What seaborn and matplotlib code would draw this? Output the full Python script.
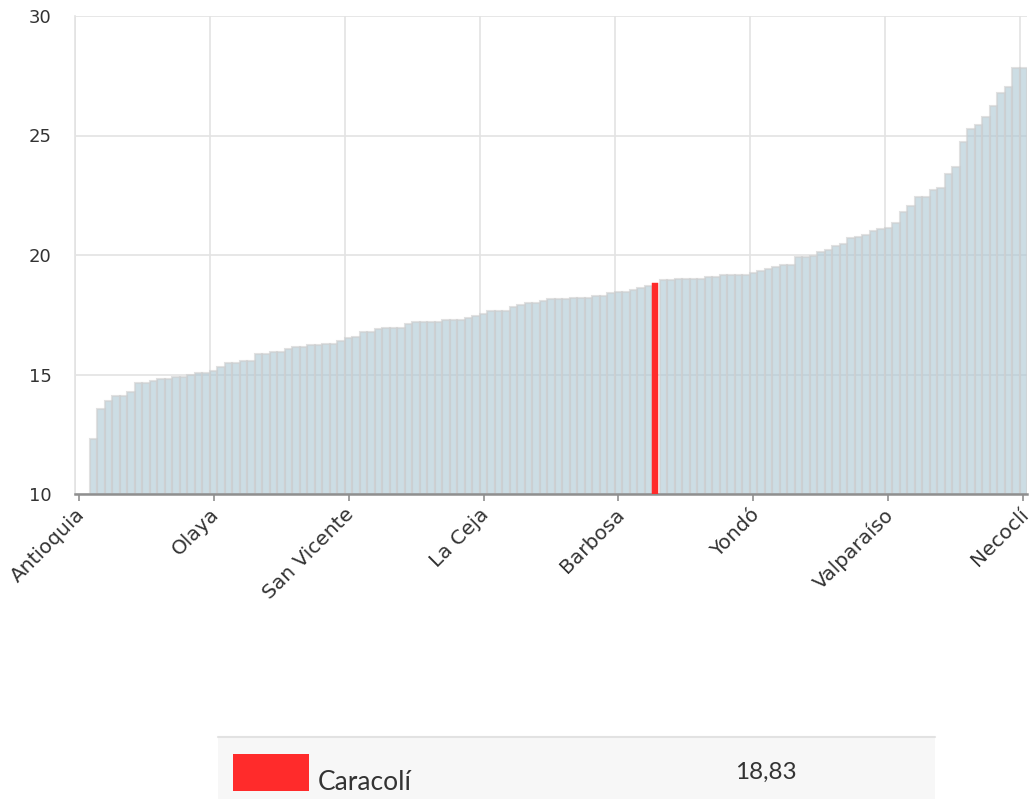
import numpy as np
import matplotlib.pyplot as plt
import matplotlib.patches as mpatches
import pandas as pd
import seaborn as sns

sns.set_theme(style='white')
plt.rcParams['font.family'] = ['DejaVu Sans']

# rate per municipality, sorted ascending (first two categories have no visible bar)
rates = [np.nan, np.nan,
         12.30, 13.56, 13.88, 14.10, 14.10, 14.27, 14.64, 14.64, 14.72, 14.81,
         14.81, 14.90, 14.90, 14.98, 15.06, 15.06, 15.15, 15.31, 15.47, 15.47,
         15.55, 15.55, 15.86, 15.86, 15.93, 15.93, 16.08, 16.16, 16.16, 16.25,
         16.25, 16.26, 16.26, 16.40, 16.51, 16.58, 16.79, 16.79, 16.89, 16.96,
         16.96, 16.96, 17.11, 17.18, 17.18, 17.18, 17.18, 17.28, 17.28, 17.28,
         17.36, 17.45, 17.52, 17.66, 17.66, 17.66, 17.81, 17.91, 17.98, 17.98,
         18.08, 18.15, 18.15, 18.15, 18.20, 18.20, 18.20, 18.30, 18.30, 18.40,
         18.47, 18.47, 18.55, 18.62, 18.70, 18.83, 18.94, 18.94, 19.01, 19.01,
         19.01, 19.01, 19.09, 19.09, 19.18, 19.18, 19.18, 19.18, 19.26, 19.33,
         19.41, 19.50, 19.57, 19.57, 19.93, 19.93, 19.97, 20.12, 20.21, 20.38,
         20.46, 20.70, 20.77, 20.84, 21.00, 21.09, 21.15, 21.32, 21.82, 22.03,
         22.41, 22.41, 22.72, 22.82, 23.39, 23.70, 24.71, 25.27, 25.44, 25.76,
         26.23, 26.77, 27.02, 27.81, 27.81]

tick_step = 18
tick_names = ['Antioquia', 'Olaya', 'San Vicente', 'La Ceja', 'Barbosa',
              'Yondó', 'Valparaíso', 'Necoclí']

highlight_pos = 77
highlight_name = 'Caracolí'
highlight_value = 18.83

bar_color = '#aec8d4'
red = '#ff2b2b'

df = pd.DataFrame({'pos': range(len(rates)), 'rate': rates})
palette = {p: (red if p == highlight_pos else bar_color) for p in df['pos']}

fig = plt.figure(figsize=(10.32, 7.99), dpi=100)
ax = fig.add_axes([75 / 1032, 1 - 494 / 799, 952 / 1032, 478 / 799])

sns.barplot(data=df, x='pos', y='rate', hue='pos', palette=palette,
            order=list(range(len(rates))), legend=False, width=1.0,
            saturation=1, edgecolor='#cfcfcf', linewidth=1.5,
            errorbar=None, ax=ax)

for p in ax.patches:
    fc = p.get_facecolor()
    if fc[0] > 0.9 and fc[1] < 0.3:
        # highlighted bar is a bit narrower and fully opaque
        p.set_width(0.72)
        p.set_edgecolor(red)
        p.set_linewidth(0.3)
        p.set_zorder(3)
    else:
        p.set_alpha(0.62)

ax.set_ylim(10, 30)
ax.set_xlim(-0.5, len(rates) - 0.5)
ax.set_yticks([10, 15, 20, 25, 30])
ax.set_yticklabels(['10', '15', '20', '25', '30'], fontsize=13, color='#333333')

tick_pos = list(range(0, len(rates), tick_step))
ax.set_xticks(tick_pos)
ax.set_xticklabels([])
for pos, name in zip(tick_pos, tick_names):
    ax.annotate(name, xy=(pos, 0), xycoords=ax.get_xaxis_transform(),
                xytext=(-4, -11), textcoords='offset pixels',
                rotation=45, ha='right', va='top', rotation_mode='anchor',
                fontsize=14.5, color='#333333', annotation_clip=False)
ax.set_xticks([t - 0.5 for t in tick_pos], minor=True)

ax.set_axisbelow(True)
ax.grid(axis='y', which='major', color='#e3e3e3', linewidth=1.2)
ax.grid(axis='x', which='minor', color='#e3e3e3', linewidth=1.2)
ax.grid(axis='x', which='major', visible=False)

ax.tick_params(axis='y', length=0, pad=17)
ax.tick_params(axis='x', which='major', length=5, width=1.2, color='#909090',
               bottom=True)
ax.tick_params(axis='x', which='minor', length=0)
ax.set_xlabel('')
ax.set_ylabel('')

for s in ['top', 'right']:
    ax.spines[s].set_visible(False)
ax.spines['left'].set_color('#e3e3e3')
ax.spines['left'].set_linewidth(1.2)
ax.spines['bottom'].set_color('#8f8f8f')
ax.spines['bottom'].set_linewidth(1.8)

# legend table below the chart
fig.patches.append(mpatches.Rectangle((218 / 1032, 0), (935 - 218) / 1032, (799 - 737) / 799,
                                      transform=fig.transFigure, facecolor='#f7f7f7',
                                      edgecolor='none', zorder=0))
fig.add_artist(plt.Line2D([218 / 1032, 935 / 1032], [1 - 737 / 799, 1 - 737 / 799],
                          transform=fig.transFigure, color='#e2e2e2', linewidth=1.5))
fig.patches.append(mpatches.Rectangle((233 / 1032, 1 - 791 / 799), 76 / 1032, 37 / 799,
                                      transform=fig.transFigure, facecolor=red,
                                      edgecolor='none', zorder=2))
fig.text(318 / 1032, 1 - 790 / 799, highlight_name, fontsize=19, color='#333333',
         family=['Lato', 'DejaVu Sans'], va='baseline')
fig.text(766 / 1032, 1 - 772 / 799, f'{highlight_value:.2f}'.replace('.', ','),
         fontsize=17.5, color='#333333', family=['Lato', 'DejaVu Sans'],
         ha='center', va='center')

fig.savefig('out.png', dpi=100)
